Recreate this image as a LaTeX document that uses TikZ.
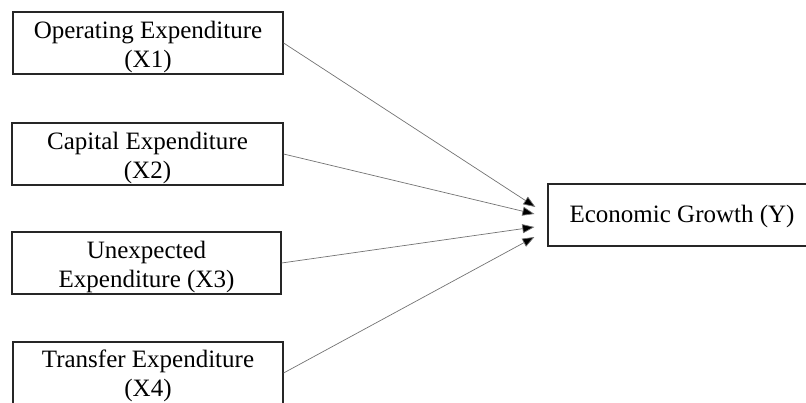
\documentclass[tikz,border=0pt]{standalone}
\usepackage{fontspec}
\setmainfont{Liberation Serif}
\usetikzlibrary{arrows.meta}
\begin{document}
\begin{tikzpicture}[x=1pt,y=-1pt,
  boxfont/.style={font=\fontsize{25}{29}\selectfont},
  varbox/.style={draw=black!85, line width=1.2pt, inner sep=0pt, minimum height=62pt},
  boxtext/.style={boxfont, inner sep=0pt, align=center},
  link/.style={draw=black!55, line width=0.7pt, -{Triangle[length=12pt,width=9pt,fill=black]}}]
\clip (0,0) rectangle (806,402);
\node[varbox, minimum width=270pt] (x1) at (148,43) {};
\node[varbox, minimum width=271pt] (x2) at (147.5,154) {};
\node[varbox, minimum width=269pt] (x3) at (146.5,263) {};
\node[varbox, minimum width=270pt] (x4) at (148,373) {};
\node[varbox, minimum width=264pt] (y) at (680,215) {};
\node[boxtext] (x1t) at ([yshift=-4pt]x1.center) {Operating Expenditure\\(X1)};
\node[boxtext] (x2t) at ([yshift=-4pt]x2.center) {Capital Expenditure\\(X2)};
\node[boxtext] (x3t) at ([yshift=-4pt]x3.center) {Unexpected\\Expenditure (X3)};
\node[boxtext] (x4t) at ([yshift=-3pt]x4.center) {Transfer Expenditure\\(X4)};
\node[boxtext, anchor=west] (ylabel) at ([xshift=22pt,yshift=-1pt]y.west) {Economic Growth (Y)};
\coordinate (t1) at ([xshift=-12pt,yshift=8pt]y.west);
\coordinate (t2) at ([xshift=-13pt,yshift=1pt]y.west);
\coordinate (t3) at ([xshift=-13pt,yshift=-12pt]y.west);
\coordinate (t4) at ([xshift=-13pt,yshift=-22pt]y.west);
\draw[link] (x1.east) -- (t1);
\draw[link] (x2.east) -- (t2);
\draw[link] (x3.east) -- (t3);
\draw[link] (x4.east) -- (t4);
\end{tikzpicture}
\end{document}
